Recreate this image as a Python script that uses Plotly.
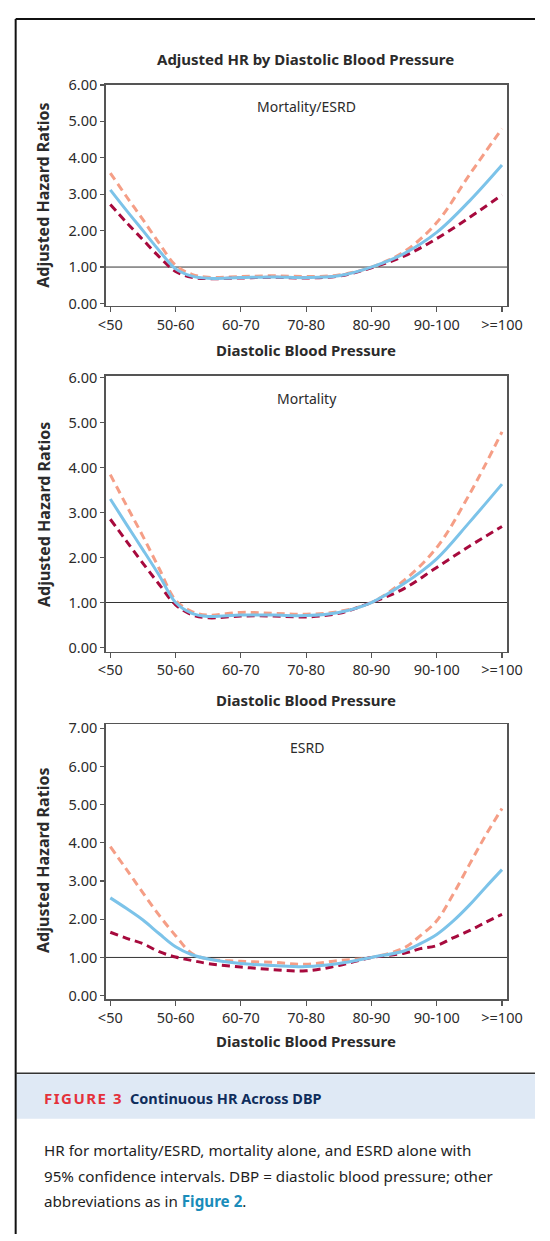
import plotly.graph_objects as go

W, H = 550, 1241

# ---------------- data ----------------
categories = ["<50", "50-60", "60-70", "70-80", "80-90", "90-100", ">=100"]
cat_pos = [0, 1, 2, 3, 4, 5, 6]

# sample positions along the category axis (index units)
x1 = [0, 0.25, 0.5, 0.75, 1.0, 1.25, 1.5, 2.0, 2.5, 3.0, 3.5, 4.0, 4.5, 5.0, 5.5, 6.0]
comb_hr = [3.12, 2.55, 2.00, 1.45, 0.95, 0.75, 0.69, 0.71, 0.73, 0.71, 0.76, 1.00, 1.37, 1.95, 2.81, 3.80]
comb_hi = [3.58, 2.93, 2.30, 1.65, 1.05, 0.80, 0.72, 0.74, 0.76, 0.74, 0.78, 1.00, 1.42, 2.22, 3.53, 4.80]
comb_lo = [2.72, 2.22, 1.75, 1.28, 0.88, 0.72, 0.68, 0.70, 0.72, 0.70, 0.75, 0.98, 1.30, 1.78, 2.36, 2.98]

mort_hr = [3.30, 2.73, 2.17, 1.60, 1.00, 0.76, 0.69, 0.72, 0.72, 0.71, 0.78, 1.00, 1.42, 1.97, 2.78, 3.63]
mort_hi = [3.84, 3.15, 2.47, 1.75, 1.05, 0.80, 0.72, 0.78, 0.76, 0.74, 0.80, 1.00, 1.49, 2.22, 3.40, 4.79]
mort_lo = [2.85, 2.36, 1.87, 1.40, 0.95, 0.73, 0.66, 0.70, 0.70, 0.68, 0.76, 1.00, 1.31, 1.78, 2.25, 2.69]

x3 = [0, 0.25, 0.5, 0.75, 1.0, 1.25, 1.5, 2.0, 2.5, 3.0, 3.5, 4.0, 4.5, 4.75, 5.0, 5.25, 5.5, 5.75, 6.0]
esrd_hr = [2.56, 2.28, 1.98, 1.62, 1.28, 1.07, 0.96, 0.84, 0.79, 0.76, 0.84, 1.00, 1.17, 1.36, 1.60, 1.95, 2.37, 2.84, 3.30]
esrd_hi = [3.90, 3.30, 2.69, 2.10, 1.57, 1.10, 0.96, 0.90, 0.87, 0.82, 0.92, 1.00, 1.25, 1.57, 1.96, 2.65, 3.43, 4.20, 4.90]
esrd_lo = [1.66, 1.50, 1.36, 1.15, 1.01, 0.92, 0.84, 0.75, 0.68, 0.65, 0.79, 1.00, 1.11, 1.23, 1.31, 1.51, 1.70, 1.92, 2.13]

panel_labels = ["Mortality/ESRD", "Mortality", "ESRD"]
y_ranges = [[-0.06, 6.0], [-0.09, 6.04], [-0.1, 7.1]]
y_ticks = [[0, 1, 2, 3, 4, 5, 6], [0, 1, 2, 3, 4, 5, 6], [0, 1, 2, 3, 4, 5, 6, 7]]

# ---------------- styling ----------------
BLUE = "#7cc3e9"
SALMON = "#f59e86"
CRIMSON = "#a70a3d"
AXC = "#555555"
TXT = "#2b2b2b"
FONT = "Noto Sans"

def px(x):
    return x / W

def py(y):
    return 1 - y / H

# panel pixel boxes: (top, bottom)
boxes = [(75, 299), (370, 650), (724, 1003)]
XL, XR = 102, 521
x_range = [-0.07, 6.08]

fig = go.Figure()

series = [
    (x1, comb_hr, comb_hi, comb_lo),
    (x1, mort_hr, mort_hi, mort_lo),
    (x3, esrd_hr, esrd_hi, esrd_lo),
]

for i, (xs, hr, hi, lo) in enumerate(series):
    xa = "x" if i == 0 else f"x{i+1}"
    ya = "y" if i == 0 else f"y{i+1}"
    fig.add_trace(go.Scatter(x=xs, y=hi, mode="lines", xaxis=xa, yaxis=ya,
                             line=dict(color=SALMON, width=3, dash="8px,5px", shape="spline", smoothing=1.0),
                             showlegend=False, hoverinfo="skip"))
    fig.add_trace(go.Scatter(x=xs, y=lo, mode="lines", xaxis=xa, yaxis=ya,
                             line=dict(color=CRIMSON, width=3, dash="8px,5px", shape="spline", smoothing=1.0),
                             showlegend=False, hoverinfo="skip"))
    fig.add_trace(go.Scatter(x=xs, y=hr, mode="lines", xaxis=xa, yaxis=ya,
                             line=dict(color=BLUE, width=3, shape="spline", smoothing=1.0),
                             showlegend=False, hoverinfo="skip"))
    # reference line at HR = 1
    fig.add_shape(type="line", xref=f"{xa} domain", yref=ya, x0=0, x1=1, y0=1, y1=1,
                  line=dict(color="#333333", width=1), layer="below")

layout = dict(
    width=W, height=H,
    margin=dict(l=0, r=0, t=0, b=0),
    paper_bgcolor="white", plot_bgcolor="white",
    font=dict(family=FONT, color=TXT, size=14),
)

for i, (top, bot) in enumerate(boxes):
    sfx = "" if i == 0 else str(i + 1)
    layout[f"xaxis{sfx}"] = dict(
        domain=[px(XL), px(XR)], range=x_range, anchor=f"y{sfx}",
        tickmode="array", tickvals=cat_pos, ticktext=categories,
        ticks="outside", ticklen=5, tickcolor=AXC, tickwidth=1.2,
        showline=True, linecolor=AXC, linewidth=1.5, mirror=True,
        showgrid=False, zeroline=False, tickfont=dict(size=14.5, color=TXT, family=FONT),
    )
    layout[f"yaxis{sfx}"] = dict(
        domain=[py(bot), py(top)], range=y_ranges[i], anchor=f"x{sfx}",
        tickmode="array", tickvals=y_ticks[i], ticktext=[f"{v:.2f}" for v in y_ticks[i]],
        ticks="outside", ticklen=4, tickcolor=AXC, tickwidth=1.2,
        showline=True, linecolor=AXC, linewidth=1.5, mirror=True,
        showgrid=False, zeroline=False, tickfont=dict(size=14.5, color=TXT, family=FONT),
    )

fig.update_layout(**layout)

ann = []
# main title
ann.append(dict(text="<b>Adjusted HR by Diastolic Blood Pressure</b>", x=px(311), y=py(49),
                xref="paper", yref="paper", showarrow=False, xanchor="center", yanchor="middle",
                font=dict(size=15, color=TXT, family=FONT)))
label_y = [97, 393, 747]
xt_y = [344, 699, 1045]
yt_y = [187, 511, 862]
for i in range(3):
    ann.append(dict(text=panel_labels[i], x=px(312), y=py(label_y[i]), xref="paper", yref="paper",
                    showarrow=False, xanchor="center", yanchor="middle",
                    font=dict(size=14, color=TXT, family=FONT)))
    ann.append(dict(text="<b>Diastolic Blood Pressure</b>", x=px(311), y=py(xt_y[i]), xref="paper", yref="paper",
                    showarrow=False, xanchor="center", yanchor="middle",
                    font=dict(size=15, color=TXT, family=FONT)))
    ann.append(dict(text="<b>Adjusted Hazard Ratios</b>", x=px(37), y=py(yt_y[i]), xref="paper", yref="paper",
                    showarrow=False, xanchor="center", yanchor="middle", textangle=-90,
                    font=dict(size=16, color=TXT, family=FONT)))

# caption
ann.append(dict(text="<b><span style='letter-spacing:1.5px'>FIGURE 3</span></b>", x=px(36), y=py(1103),
                xref="paper", yref="paper", showarrow=False, xanchor="left", yanchor="middle",
                font=dict(size=15, color="#e4313b", family=FONT)))
ann.append(dict(text="<b>Continuous HR Across DBP</b>", x=px(125), y=py(1103), xref="paper", yref="paper",
                showarrow=False, xanchor="left", yanchor="middle",
                font=dict(size=14.5, color="#0f2d5c", family=FONT)))
body = [
    ("HR for mortality/ESRD, mortality alone, and ESRD alone with", 1156),
    ("95% confidence intervals. DBP = diastolic blood pressure; other", 1182),
    ("abbreviations as in <b><span style='color:#1a8cba'>Figure 2</span></b>.", 1208),
]
for t, yy in body:
    ann.append(dict(text=t, x=px(35), y=py(yy), xref="paper", yref="paper",
                    showarrow=False, xanchor="left", yanchor="middle",
                    font=dict(size=15.2, color="#1e1e1e", family=FONT)))
fig.update_layout(annotations=ann)

# frame and caption band
shapes = list(fig.layout.shapes)
shapes += [
    dict(type="rect", xref="paper", yref="paper", x0=px(8), x1=1, y0=py(1124), y1=py(1079),
         fillcolor="#dfe9f5", line=dict(width=0), layer="below"),
    dict(type="line", xref="paper", yref="paper", x0=px(8), x1=1, y0=py(8), y1=py(8),
         line=dict(color="#111111", width=2)),
    dict(type="line", xref="paper", yref="paper", x0=px(8), x1=px(8), y0=py(8), y1=0,
         line=dict(color="#111111", width=2)),
    dict(type="line", xref="paper", yref="paper", x0=px(8), x1=1, y0=py(1078), y1=py(1078),
         line=dict(color="#333333", width=1.5)),
]
fig.update_layout(shapes=shapes)

fig.write_html("out.html", config={"displayModeBar": False, "staticPlot": True},
               post_script="document.body.style.margin='0';document.body.style.padding='0';"
                           "document.body.style.overflow='hidden';document.documentElement.style.overflow='hidden';")
